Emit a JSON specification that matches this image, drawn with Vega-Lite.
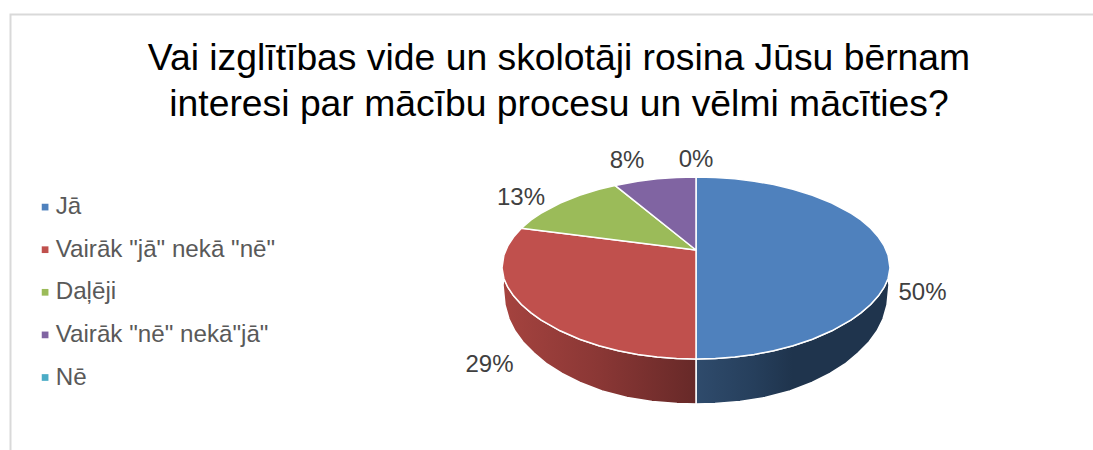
{
"$schema":"https://vega.github.io/schema/vega-lite/v6.json",
"width":1093,"height":450,"autosize":{"type":"none"},"padding":0,"background":"white",
"title":{"text":["Vai izglītības vide un skolotāji rosina Jūsu bērnam","interesi par mācību procesu un vēlmi mācīties?"],"anchor":"middle","frame":"group","dx":12.5,"dy":157.5,"font":"Liberation Sans","fontSize":37.3,"fontWeight":"normal","color":"#000000","lineHeight":46,"baseline":"alphabetic"},
"config":{"view":{"stroke":null}},
"encoding":{
"x":{"field":"x","type":"quantitative","scale":{"domain":[0,1093],"nice":false,"zero":false},"axis":null},
"y":{"field":"y","type":"quantitative","scale":{"domain":[450,0],"nice":false,"zero":false},"axis":null}
},
"layer":[
{"data":{"values":[{"i":0,"x":10.5,"y":450},{"i":1,"x":10.5,"y":14.5},{"i":2,"x":1093,"y":14.5}]},
 "mark":{"type":"line","stroke":"#d9d9d9","strokeWidth":2},
 "encoding":{"order":{"field":"i"}}},
{"data":{"values":[
{"i":0,"x":696,"y":359},{"i":1,"x":715.4,"y":358.5},{"i":2,"x":734.8,"y":357},{"i":3,"x":754.2,"y":354.4},{"i":4,"x":773.6,"y":350.7},{"i":5,"x":793,"y":345.7},{"i":6,"x":812.4,"y":339.2},{"i":7,"x":831.8,"y":330.8},{"i":8,"x":851.2,"y":319.9},{"i":9,"x":860.9,"y":312.9},{"i":10,"x":870.6,"y":304.5},{"i":11,"x":878.4,"y":295.8},{"i":12,"x":884.2,"y":287.2},{"i":13,"x":888.1,"y":278.5},
{"i":14,"x":889,"y":285},{"i":15,"x":887,"y":305},{"i":16,"x":883,"y":319},{"i":17,"x":877,"y":331},{"i":18,"x":869,"y":342},{"i":19,"x":858,"y":353},{"i":20,"x":845,"y":364},{"i":21,"x":830,"y":373.5},{"i":22,"x":812,"y":382.5},{"i":23,"x":790,"y":391},{"i":24,"x":765,"y":397.5},{"i":25,"x":740,"y":401.5},{"i":26,"x":715,"y":403.5},{"i":27,"x":696,"y":404},{"i":28,"x":696,"y":359}
]},
 "mark":{"type":"line","stroke":"#ffffff","strokeWidth":1.5,"fill":{"gradient":"linear","x1":0,"x2":1,"y1":0,"y2":0,"stops":[{"offset":0,"color":"#2f4b6c"},{"offset":0.3,"color":"#263f5c"},{"offset":0.5,"color":"#1f344d"},{"offset":1,"color":"#1f344d"}]}},
 "encoding":{"order":{"field":"i"}}},
{"data":{"values":[
{"i":0,"x":696,"y":359},{"i":1,"x":676.6,"y":358.5},{"i":2,"x":657.2,"y":357},{"i":3,"x":637.8,"y":354.4},{"i":4,"x":618.4,"y":350.7},{"i":5,"x":599,"y":345.7},{"i":6,"x":579.6,"y":339.2},{"i":7,"x":560.2,"y":330.8},{"i":8,"x":540.8,"y":319.9},{"i":9,"x":531.1,"y":312.9},{"i":10,"x":521.4,"y":304.5},{"i":11,"x":513.6,"y":295.8},{"i":12,"x":507.8,"y":287.2},{"i":13,"x":503.9,"y":278.5},
{"i":14,"x":503,"y":285},{"i":15,"x":505,"y":305},{"i":16,"x":509,"y":319},{"i":17,"x":515,"y":331},{"i":18,"x":523,"y":342},{"i":19,"x":534,"y":353},{"i":20,"x":547,"y":364},{"i":21,"x":562,"y":373.5},{"i":22,"x":580,"y":382.5},{"i":23,"x":602,"y":391},{"i":24,"x":627,"y":397.5},{"i":25,"x":652,"y":401.5},{"i":26,"x":677,"y":403.5},{"i":27,"x":696,"y":404},{"i":28,"x":696,"y":359}
]},
 "mark":{"type":"line","stroke":"#ffffff","strokeWidth":1.5,"fill":{"gradient":"linear","x1":0,"x2":1,"y1":0,"y2":0,"stops":[{"offset":0,"color":"#a5433f"},{"offset":0.5,"color":"#8a3735"},{"offset":1,"color":"#672928"}]}},
 "encoding":{"order":{"field":"i"}}},
{"data":{"values":[
{"slice":"Jā","i":0,"x":696,"y":177},{"slice":"Jā","i":1,"x":715.4,"y":177.5},{"slice":"Jā","i":2,"x":734.8,"y":178.8},{"slice":"Jā","i":3,"x":754.2,"y":181.2},{"slice":"Jā","i":4,"x":773.6,"y":184.6},{"slice":"Jā","i":5,"x":793,"y":189.2},{"slice":"Jā","i":6,"x":812.4,"y":195.2},{"slice":"Jā","i":7,"x":831.8,"y":203},{"slice":"Jā","i":8,"x":851.2,"y":213.4},{"slice":"Jā","i":9,"x":860.9,"y":220},{"slice":"Jā","i":10,"x":870.6,"y":228.3},{"slice":"Jā","i":11,"x":878.4,"y":237},{"slice":"Jā","i":12,"x":884.2,"y":245.9},{"slice":"Jā","i":13,"x":888.1,"y":255.2},{"slice":"Jā","i":14,"x":890,"y":268},{"slice":"Jā","i":15,"x":888.1,"y":278.5},{"slice":"Jā","i":16,"x":884.2,"y":287.2},{"slice":"Jā","i":17,"x":878.4,"y":295.8},{"slice":"Jā","i":18,"x":870.6,"y":304.5},{"slice":"Jā","i":19,"x":860.9,"y":312.9},{"slice":"Jā","i":20,"x":851.2,"y":319.9},{"slice":"Jā","i":21,"x":831.8,"y":330.8},{"slice":"Jā","i":22,"x":812.4,"y":339.2},{"slice":"Jā","i":23,"x":793,"y":345.7},{"slice":"Jā","i":24,"x":773.6,"y":350.7},{"slice":"Jā","i":25,"x":754.2,"y":354.4},{"slice":"Jā","i":26,"x":734.8,"y":357},{"slice":"Jā","i":27,"x":715.4,"y":358.5},{"slice":"Jā","i":28,"x":696,"y":359},{"slice":"Jā","i":29,"x":696,"y":177},
{"slice":"Vairāk \"jā\" nekā \"nē\"","i":0,"x":696,"y":250},{"slice":"Vairāk \"jā\" nekā \"nē\"","i":1,"x":696,"y":359},{"slice":"Vairāk \"jā\" nekā \"nē\"","i":2,"x":676.6,"y":358.5},{"slice":"Vairāk \"jā\" nekā \"nē\"","i":3,"x":657.2,"y":357},{"slice":"Vairāk \"jā\" nekā \"nē\"","i":4,"x":637.8,"y":354.4},{"slice":"Vairāk \"jā\" nekā \"nē\"","i":5,"x":618.4,"y":350.7},{"slice":"Vairāk \"jā\" nekā \"nē\"","i":6,"x":599,"y":345.7},{"slice":"Vairāk \"jā\" nekā \"nē\"","i":7,"x":579.6,"y":339.2},{"slice":"Vairāk \"jā\" nekā \"nē\"","i":8,"x":560.2,"y":330.8},{"slice":"Vairāk \"jā\" nekā \"nē\"","i":9,"x":540.8,"y":319.9},{"slice":"Vairāk \"jā\" nekā \"nē\"","i":10,"x":531.1,"y":312.9},{"slice":"Vairāk \"jā\" nekā \"nē\"","i":11,"x":521.4,"y":304.5},{"slice":"Vairāk \"jā\" nekā \"nē\"","i":12,"x":513.6,"y":295.8},{"slice":"Vairāk \"jā\" nekā \"nē\"","i":13,"x":507.8,"y":287.2},{"slice":"Vairāk \"jā\" nekā \"nē\"","i":14,"x":503.9,"y":278.5},{"slice":"Vairāk \"jā\" nekā \"nē\"","i":15,"x":502,"y":268},{"slice":"Vairāk \"jā\" nekā \"nē\"","i":16,"x":503.9,"y":255.2},{"slice":"Vairāk \"jā\" nekā \"nē\"","i":17,"x":507.8,"y":245.9},{"slice":"Vairāk \"jā\" nekā \"nē\"","i":18,"x":513.6,"y":237},{"slice":"Vairāk \"jā\" nekā \"nē\"","i":19,"x":521.4,"y":228.3},{"slice":"Vairāk \"jā\" nekā \"nē\"","i":20,"x":696,"y":250},
{"slice":"Daļēji","i":0,"x":696,"y":250},{"slice":"Daļēji","i":1,"x":521.4,"y":228.3},{"slice":"Daļēji","i":2,"x":531.1,"y":220},{"slice":"Daļēji","i":3,"x":540.8,"y":213.4},{"slice":"Daļēji","i":4,"x":560.2,"y":203},{"slice":"Daļēji","i":5,"x":579.6,"y":195.2},{"slice":"Daļēji","i":6,"x":599,"y":189.2},{"slice":"Daļēji","i":7,"x":615,"y":185.4},{"slice":"Daļēji","i":8,"x":696,"y":250},
{"slice":"Vairāk \"nē\" nekā\"jā\"","i":0,"x":696,"y":250},{"slice":"Vairāk \"nē\" nekā\"jā\"","i":1,"x":615,"y":185.4},{"slice":"Vairāk \"nē\" nekā\"jā\"","i":2,"x":637.8,"y":181.2},{"slice":"Vairāk \"nē\" nekā\"jā\"","i":3,"x":657.2,"y":178.8},{"slice":"Vairāk \"nē\" nekā\"jā\"","i":4,"x":676.6,"y":177.5},{"slice":"Vairāk \"nē\" nekā\"jā\"","i":5,"x":696,"y":177},{"slice":"Vairāk \"nē\" nekā\"jā\"","i":6,"x":696,"y":250}
]},
 "mark":{"type":"line","stroke":"#ffffff","strokeWidth":1.5,"fill":"#4f81bd"},
 "encoding":{"order":{"field":"i"},
  "fill":{"field":"slice","type":"nominal","scale":{"domain":["Jā","Vairāk \"jā\" nekā \"nē\"","Daļēji","Vairāk \"nē\" nekā\"jā\"","Nē"],"range":["#4f81bd","#c0504d","#9bbb59","#8064a2","#4bacc6"]},
   "legend":{"title":null,"orient":"none","legendX":33,"legendY":195,"symbolType":"square","symbolSize":45,"symbolStrokeWidth":0,"symbolOpacity":1,"labelFont":"Liberation Sans","labelFontSize":24.2,"labelColor":"#595959","labelOffset":-1.5,"rowPadding":17.6,"labelLimit":400,"values":["Jā","Vairāk \"jā\" nekā \"nē\"","Daļēji","Vairāk \"nē\" nekā\"jā\"","Nē"]}}}},
{"data":{"values":[
{"label":"50%","x":922.5,"y":293},{"label":"29%","x":489.5,"y":365},{"label":"13%","x":521,"y":198},{"label":"8%","x":627,"y":161},{"label":"0%","x":696,"y":159.5}
]},
 "mark":{"type":"text","font":"Liberation Sans","fontSize":24,"color":"#404040","align":"center","baseline":"middle"},
 "encoding":{"text":{"field":"label","type":"nominal"}}}
]
}
